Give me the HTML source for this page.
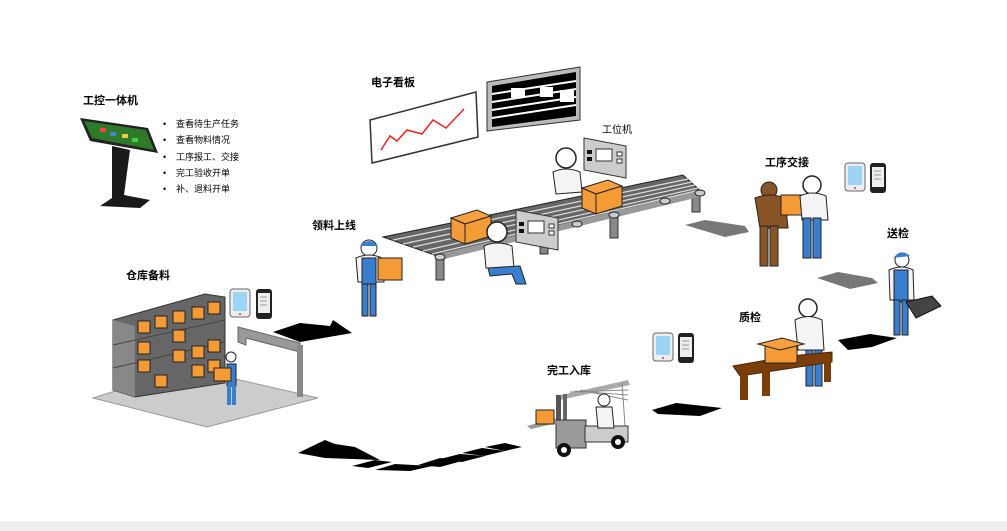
<!DOCTYPE html>
<html><head><meta charset="utf-8"><style>
html,body{margin:0;padding:0;background:#fff;width:1007px;height:531px;overflow:hidden}
svg{display:block}
text{font-family:"Liberation Sans","Noto Sans CJK SC",sans-serif;fill:#000}
.lb{font-size:11px;font-weight:bold}
.bl{font-size:9px}
</style></head><body>
<svg width="1007" height="531" viewBox="0 0 1007 531" xmlns="http://www.w3.org/2000/svg">
<defs>
<g id="tab"><rect x="0" y="0" width="20" height="28" rx="3" fill="#eee" stroke="#666"/><rect x="3" y="3" width="14" height="19" fill="#9cd4f5"/><circle cx="10" cy="25" r="1" fill="#c36"/></g>
<g id="ph"><rect x="0" y="0" width="16" height="30" rx="3" fill="#222"/><rect x="2" y="4" width="12" height="20" fill="#eee"/><line x1="4" y1="8" x2="11" y2="8" stroke="#999"/><line x1="4" y1="12" x2="11" y2="12" stroke="#999"/><line x1="4" y1="16" x2="11" y2="16" stroke="#999"/></g>
<g id="term"><polygon points="0,0 42,8 42,40 0,32" fill="#ccc" stroke="#333"/><rect x="3" y="12" width="5" height="4" fill="#111"/><rect x="3" y="19" width="5" height="4" fill="#111"/><rect x="12" y="11" width="16" height="12" fill="#fff" stroke="#333"/><rect x="33" y="14" width="5" height="4" fill="#fff" stroke="#333"/><rect x="33" y="21" width="5" height="4" fill="#fff" stroke="#333"/></g>
<g id="box"><polygon points="0,8 26,0 40,6 14,14" fill="#f8a040" stroke="#222"/><polygon points="0,8 14,14 14,34 0,28" fill="#f39a3a" stroke="#222"/><polygon points="14,14 40,6 40,26 14,34" fill="#f59b35" stroke="#222"/></g>
</defs>

<rect x="0" y="521" width="1007" height="10" fill="#eeeeee"/>

<!-- kiosk -->
<text class="lb" x="83" y="104">工控一体机</text>
<polygon points="80,118 148,128 158,153 90,141" fill="#222"/>
<polygon points="84,121 146,130 154,150 92,138" fill="#2e7a2a"/>
<rect x="100" y="128" width="6" height="4" fill="#e44"/><rect x="110" y="132" width="6" height="4" fill="#48c"/><rect x="122" y="134" width="6" height="4" fill="#ec3"/><rect x="132" y="138" width="6" height="4" fill="#4c4"/>
<path d="M112,146 L130,150 L124,195 L150,200 L140,208 L100,206 L112,198 Z" fill="#1a1a1a"/>
<g class="bl">
<text x="163" y="127">•</text><text x="176" y="127">查看待生产任务</text>
<text x="163" y="143">•</text><text x="176" y="143">查看物料情况</text>
<text x="163" y="160">•</text><text x="176" y="160">工序报工、交接</text>
<text x="163" y="176">•</text><text x="176" y="176">完工验收开单</text>
<text x="163" y="192">•</text><text x="176" y="192">补、退料开单</text>
</g>

<!-- boards -->
<text class="lb" x="371" y="86">电子看板</text>
<polygon points="370,120 476,92 478,137 372,163" fill="#fff" stroke="#333" stroke-width="1.5"/>
<polyline points="381,150 390,136 397,141 407,130 422,134 433,120 446,128 464,109" fill="none" stroke="#e22" stroke-width="1.5"/>
<polygon points="487,82 580,67 580,120 487,131" fill="#bbb" stroke="#333"/>
<polygon points="492,86 576,72 576,116 492,127" fill="#000"/>
<g stroke="#fff" stroke-width="2"><line x1="492" y1="94" x2="576" y2="81"/><line x1="492" y1="102" x2="576" y2="89"/><line x1="492" y1="110" x2="576" y2="97"/><line x1="492" y1="118" x2="576" y2="105"/></g>
<rect x="511" y="88" width="14" height="10" fill="#fff"/><rect x="540" y="87" width="13" height="10" fill="#fff"/><rect x="560" y="90" width="14" height="12" fill="#fff"/>

<!-- conveyor -->
<g fill="#888" stroke="#333"><rect x="436" y="250" width="8" height="30"/><rect x="610" y="210" width="8" height="28"/><rect x="692" y="190" width="8" height="22"/><rect x="540" y="232" width="8" height="22"/></g>
<polygon points="383,237 683,175 703,193 440,257" fill="#666" stroke="#222"/>
<g stroke="#ddd" stroke-width="1.2">
<line x1="393" y1="240" x2="688" y2="179"/><line x1="403" y1="244" x2="692" y2="182"/><line x1="413" y1="247" x2="695" y2="185"/><line x1="423" y1="251" x2="698" y2="188"/><line x1="432" y1="254" x2="700" y2="190"/>
</g>
<line x1="440" y1="257" x2="703" y2="193" stroke="#999" stroke-width="6"/>
<g fill="#ccc" stroke="#222"><ellipse cx="440" cy="257" rx="5" ry="3"/><ellipse cx="577" cy="224" rx="5" ry="3"/><ellipse cx="614" cy="215" rx="5" ry="3"/><ellipse cx="665" cy="201" rx="5" ry="3"/><ellipse cx="700" cy="193" rx="5" ry="3"/></g>
<text x="602" y="133" style="font-size:10px">工位机</text>
<use href="#term" x="584" y="138"/>
<circle cx="566" cy="158" r="10" fill="#fff" stroke="#222" stroke-width="1.5"/>
<path d="M553,172 Q566,166 580,172 L582,192 L556,194 Z" fill="#f4f4f4" stroke="#222"/>
<use href="#box" x="582" y="180"/>
<use href="#box" x="451" y="210"/>
<use href="#term" x="516" y="210"/>
<circle cx="497" cy="232" r="10" fill="#fff" stroke="#222" stroke-width="1.5"/>
<path d="M484,246 Q497,240 512,246 L514,268 L486,268 Z" fill="#f4f4f4" stroke="#222"/>
<path d="M488,268 L520,266 L526,284 L516,284 L512,274 L490,276 Z" fill="#3a7fcf" stroke="#222"/>

<!-- loading worker -->
<text class="lb" x="312" y="229">领料上线</text>
<circle cx="369" cy="248" r="8" fill="#fff" stroke="#222"/><path d="M360,246 Q369,236 378,246 Z" fill="#3a7fcf"/>
<path d="M356,258 Q369,252 382,258 L384,282 L358,282 Z" fill="#f4f4f4" stroke="#222"/>
<rect x="362" y="258" width="14" height="26" fill="#3a7fcf" stroke="#222"/>
<rect x="362" y="284" width="6" height="32" fill="#3a7fcf" stroke="#222"/><rect x="370" y="284" width="6" height="32" fill="#3a7fcf" stroke="#222"/>
<rect x="378" y="258" width="24" height="22" fill="#f59b35" stroke="#222"/>

<!-- warehouse -->
<text class="lb" x="126" y="279">仓库备料</text>
<use href="#tab" x="230" y="289"/><use href="#ph" x="256" y="289"/>
<polygon points="93,398 207,427 318,398 205,372 150,380" fill="#ccc" stroke="#999"/>
<polygon points="113,320 205,294 225,297 225,383 135,397 113,390" fill="#666" stroke="#333"/>
<polygon points="113,320 135,326 135,397 113,390" fill="#888"/>
<g stroke="#444"><line x1="113" y1="345" x2="225" y2="320"/><line x1="113" y1="368" x2="225" y2="342"/></g>
<g fill="#f59b35" stroke="#222">
<rect x="138" y="321" width="12" height="12"/><rect x="155" y="316" width="12" height="12"/><rect x="173" y="311" width="12" height="12"/><rect x="192" y="307" width="12" height="12"/><rect x="208" y="302" width="12" height="12"/>
<rect x="138" y="342" width="12" height="12"/><rect x="173" y="330" width="12" height="12"/><rect x="192" y="346" width="12" height="12"/><rect x="208" y="340" width="12" height="12"/>
<rect x="138" y="360" width="12" height="12"/><rect x="173" y="350" width="12" height="12"/><rect x="192" y="365" width="12" height="12"/><rect x="208" y="360" width="12" height="12"/>
<rect x="155" y="375" width="12" height="12"/>
</g>
<polygon points="238,327 300,343 300,352 246,338 246,345 238,342" fill="#999" stroke="#666"/>
<rect x="297" y="345" width="6" height="52" fill="#888"/>
<circle cx="231" cy="357" r="5" fill="#fff" stroke="#222"/>
<rect x="227" y="364" width="9" height="22" fill="#3a7fcf" stroke="#222"/>
<rect x="227" y="385" width="4" height="20" fill="#3a7fcf"/><rect x="232" y="385" width="4" height="20" fill="#3a7fcf"/>
<rect x="214" y="368" width="17" height="13" fill="#f59b35" stroke="#222"/>

<!-- arrows -->
<polygon points="273,332 300,323 330,326 333,320 352,333 300,342" fill="#000"/>
<polygon points="298,453 325,440 335,444 355,447 380,460 325,458" fill="#000"/>
<g fill="#000">
<polygon points="352,466 375,460 392,462 368,468"/>
<polygon points="375,470 395,464 432,466 410,471"/>
<polygon points="418,465 440,458 462,461 440,467"/>
<polygon points="440,459 460,454 485,456 462,462"/>
<polygon points="462,453 482,448 505,451 484,456"/>
<polygon points="485,447 505,443 522,447 505,451"/>
</g>
<polygon points="685,225 705,220 745,226 749,232 725,237" fill="#777"/>
<polygon points="817,278 838,272 872,278 878,283 850,289" fill="#777"/>
<polygon points="838,340 870,334 897,338 872,347 848,350" fill="#000"/>
<polygon points="652,410 676,403 722,408 700,416 658,414" fill="#000"/>

<!-- handover -->
<text class="lb" x="765" y="166">工序交接</text>
<use href="#tab" x="845" y="163"/><use href="#ph" x="870" y="163"/>
<circle cx="769" cy="190" r="8" fill="#8a5526" stroke="#222"/>
<path d="M755,198 Q769,192 785,198 L788,228 L760,228 Z" fill="#8a5526" stroke="#222"/>
<rect x="760" y="226" width="8" height="40" fill="#8a5526" stroke="#222"/><rect x="770" y="226" width="8" height="40" fill="#8a5526" stroke="#222"/>
<rect x="781" y="195" width="24" height="20" fill="#f59b35" stroke="#222"/>
<circle cx="812" cy="185" r="9" fill="#fff" stroke="#222" stroke-width="1.5"/>
<path d="M800,196 Q812,190 826,196 L828,220 L802,220 Z" fill="#f4f4f4" stroke="#222"/>
<rect x="803" y="218" width="8" height="40" fill="#3a7fcf" stroke="#222"/><rect x="813" y="218" width="8" height="40" fill="#3a7fcf" stroke="#222"/>

<!-- inspection sender -->
<text class="lb" x="887" y="237">送检</text>
<circle cx="902" cy="260" r="7" fill="#fff" stroke="#222"/><path d="M893,258 Q902,248 910,256 Z" fill="#3a7fcf"/>
<path d="M889,270 Q902,264 913,270 L914,300 L890,300 Z" fill="#f4f4f4" stroke="#222"/>
<rect x="894" y="270" width="14" height="32" fill="#3a7fcf" stroke="#222"/>
<rect x="894" y="300" width="6" height="35" fill="#3a7fcf" stroke="#222"/><rect x="902" y="300" width="6" height="35" fill="#3a7fcf" stroke="#222"/>
<polygon points="906,302 932,296 941,306 916,318" fill="#444" stroke="#111"/>

<!-- QC -->
<text class="lb" x="739" y="321">质检</text>
<circle cx="808" cy="308" r="9" fill="#fff" stroke="#222" stroke-width="1.5"/>
<path d="M795,320 Q808,313 822,320 L824,350 L798,350 Z" fill="#f4f4f4" stroke="#222"/>
<rect x="806" y="350" width="7" height="36" fill="#3a7fcf" stroke="#222"/><rect x="815" y="350" width="7" height="36" fill="#3a7fcf" stroke="#222"/>
<polygon points="733,366 790,356 832,352 832,362 740,376" fill="#7a3e0a" stroke="#4a2205"/>
<rect x="740" y="372" width="8" height="28" fill="#7a3e0a"/><rect x="762" y="368" width="8" height="28" fill="#7a3e0a"/><rect x="824" y="360" width="7" height="22" fill="#7a3e0a"/>
<rect x="765" y="345" width="32" height="18" fill="#f59b35" stroke="#222"/>
<polygon points="758,344 782,338 804,344 780,350" fill="#f8a040" stroke="#222"/>
<use href="#tab" x="653" y="333"/><use href="#ph" x="678" y="333"/>

<!-- forklift -->
<text class="lb" x="547" y="374">完工入库</text>
<polygon points="557,396 628,380 630,385 560,400" fill="#aaa"/>
<g stroke="#888"><line x1="570" y1="392" x2="628" y2="390"/><line x1="575" y1="391" x2="628" y2="395"/><line x1="580" y1="390" x2="628" y2="400"/><line x1="622" y1="383" x2="626" y2="440"/></g>
<rect x="556" y="395" width="5" height="50" fill="#555"/><rect x="563" y="394" width="4" height="50" fill="#666"/>
<rect x="556" y="420" width="30" height="28" fill="#9a9a9a" stroke="#333"/>
<rect x="585" y="426" width="43" height="16" fill="#ccc" stroke="#333"/>
<circle cx="604" cy="400" r="6" fill="#fff" stroke="#222"/>
<path d="M596,407 L612,407 L614,428 L598,428 Z" fill="#f4f4f4" stroke="#222"/>
<circle cx="564" cy="450" r="7" fill="#111"/><circle cx="564" cy="450" r="3" fill="#fff"/>
<circle cx="618" cy="442" r="7" fill="#111"/><circle cx="618" cy="442" r="3" fill="#fff"/>
<polygon points="527,426 555,418 557,423 531,429" fill="#999"/>
<rect x="536" y="410" width="18" height="14" fill="#f59b35" stroke="#222"/>
</svg>
</body></html>
